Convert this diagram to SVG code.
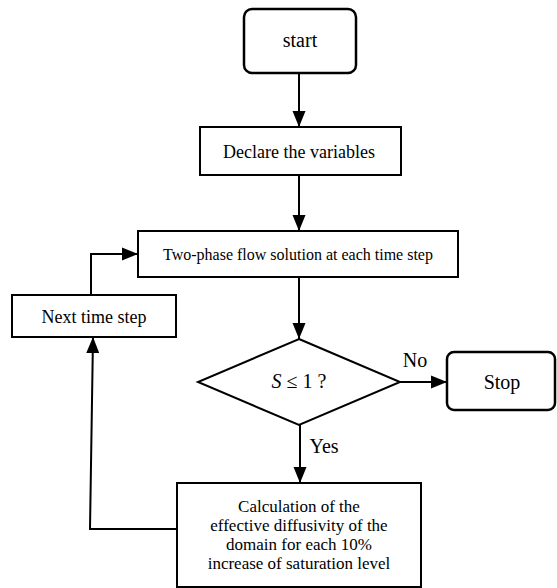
<svg xmlns="http://www.w3.org/2000/svg" width="557" height="588" viewBox="0 0 557 588">
<style>
.box{fill:#fff;stroke:#000;stroke-width:2}
.rbox{fill:#fff;stroke:#000;stroke-width:2.5}
.t{font-family:"Liberation Serif","Times New Roman",serif;fill:#000;text-anchor:middle}
.c{fill:none;stroke:#000;stroke-width:2}
</style>
<defs>
<marker id="ah" markerUnits="userSpaceOnUse" markerWidth="16" markerHeight="16" viewBox="0 0 16 16" refX="16" refY="8" orient="auto">
<path d="M0,1.5 L16,8 L0,14.5 Z" fill="#000"/>
</marker>
</defs>
<rect width="557" height="588" fill="#fff"/>
<g id="connectors">
<line class="c" x1="299" y1="73" x2="299" y2="127" marker-end="url(#ah)"/>
<line class="c" x1="299" y1="175" x2="299" y2="231" marker-end="url(#ah)"/>
<line class="c" x1="299" y1="277" x2="299" y2="339" marker-end="url(#ah)"/>
<line class="c" x1="400" y1="382" x2="447" y2="382" marker-end="url(#ah)"/>
<line class="c" x1="300" y1="425" x2="300" y2="483" marker-end="url(#ah)"/>
<polyline class="c" points="177,529 90,529 93,337" marker-end="url(#ah)"/>
<polyline class="c" points="91,295 91,254 138,254" marker-end="url(#ah)"/>
<text class="t" x="415" y="367" font-size="20">No</text>
<text class="t" x="324" y="453" font-size="20">Yes</text>
</g>
<g id="start">
<rect class="rbox" x="244" y="9" width="112" height="64" rx="8"/>
<text class="t" x="300" y="47" font-size="20">start</text>
</g>
<g id="declare">
<rect class="box" x="200" y="127" width="201" height="48"/>
<text class="t" x="299" y="158" font-size="18">Declare the variables</text>
</g>
<g id="twophase">
<rect class="box" x="138" y="231" width="320" height="46"/>
<text class="t" x="298" y="260" font-size="16">Two-phase flow solution at each time step</text>
</g>
<g id="next">
<rect class="box" x="12" y="295" width="164" height="42"/>
<text class="t" x="94" y="323" font-size="18">Next time step</text>
</g>
<g id="decision">
<polygon class="box" points="299,339 400,382 299,425 198,382"/>
<text class="t" x="299" y="388" font-size="20"><tspan font-style="italic">S</tspan> ≤ 1 ?</text>
</g>
<g id="stop">
<rect class="rbox" x="447" y="352" width="108" height="58" rx="7"/>
<text class="t" x="502" y="389" font-size="20">Stop</text>
</g>
<g id="calc">
<rect class="box" x="177" y="483" width="244" height="104"/>
<text class="t" x="299" y="512" font-size="17">Calculation of the</text>
<text class="t" x="299" y="531" font-size="17">effective diffusivity of the</text>
<text class="t" x="299" y="550" font-size="17">domain for each 10%</text>
<text class="t" x="299" y="569" font-size="17">increase of saturation level</text>
</g>
</svg>
